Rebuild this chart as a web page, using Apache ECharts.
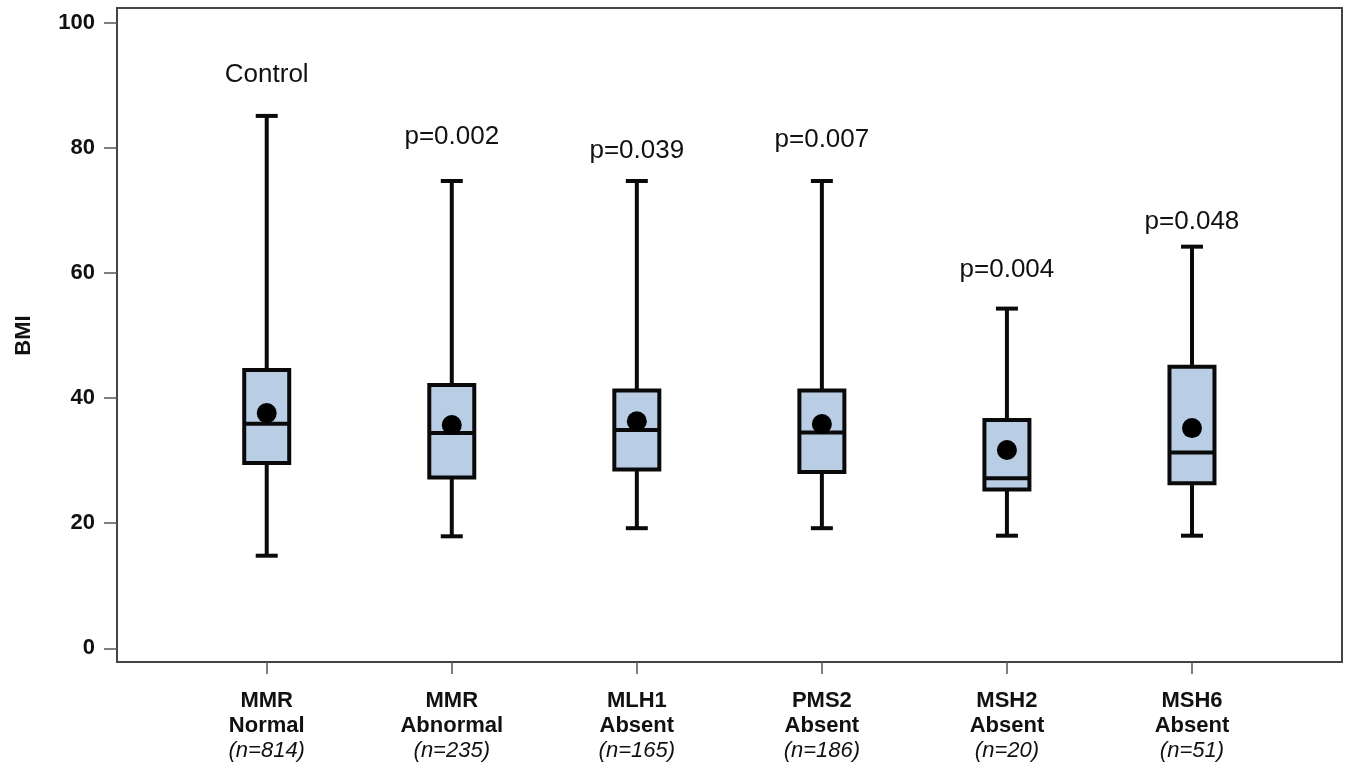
<!DOCTYPE html>
<html>
<head>
<meta charset="utf-8">
<script src="https://cdn.jsdelivr.net/npm/echarts@6/dist/echarts.min.js"></script>
<style>html,body{margin:0;padding:0;background:#fff}#c{width:1350px;height:766px}</style>
</head>
<body>
<div id="c"></div>
<script>
// ---- data ----
const groupTop = ['MMR', 'MMR', 'MLH1', 'PMS2', 'MSH2', 'MSH6'];
const groupBottom = ['Normal', 'Abnormal', 'Absent', 'Absent', 'Absent', 'Absent'];
const nCounts = [814, 235, 165, 186, 20, 51];
const whiskerLow = [14.8, 17.9, 19.2, 19.2, 18.0, 18.0];
const q1 = [29.6, 27.3, 28.6, 28.2, 25.4, 26.4];
const median = [35.9, 34.4, 34.9, 34.5, 27.2, 31.3];
const q3 = [44.5, 42.1, 41.2, 41.2, 36.5, 45.0];
const whiskerHigh = [85.1, 74.7, 74.7, 74.7, 54.3, 64.2];
const means = [37.6, 35.7, 36.3, 35.85, 31.7, 35.2];
const annotText = ['Control', 'p=0.002', 'p=0.039', 'p=0.007', 'p=0.004', 'p=0.048'];
const annotY = [91.6, 81.7, 79.5, 81.25, 60.5, 68.2];
const yTicks = { min: 0, max: 100, interval: 20 };

const categories = groupTop.map((t, i) => t + ' ' + groupBottom[i]);
const boxData = categories.map((c, i) => [i, whiskerLow[i], q1[i], median[i], q3[i], whiskerHigh[i], means[i]]);
const annotData = annotText.map((t, i) => [i, annotY[i]]);

const FONT = '"Liberation Sans", Arial, sans-serif';
const INK = '#111';
const STROKE = '#0a0a0a';

function renderBox(params, api) {
  const idx = api.value(0);
  const x = api.coord([idx, 0])[0];
  const yLow = api.coord([idx, api.value(1)])[1];
  const yQ1 = api.coord([idx, api.value(2)])[1];
  const yMed = api.coord([idx, api.value(3)])[1];
  const yQ3 = api.coord([idx, api.value(4)])[1];
  const yHigh = api.coord([idx, api.value(5)])[1];
  const yMean = api.coord([idx, api.value(6)])[1];
  const halfW = 22.5, capHalf = 11, lw = 4;
  const st = { stroke: STROKE, lineWidth: lw };
  return {
    type: 'group',
    children: [
      { type: 'line', shape: { x1: x, y1: yHigh, x2: x, y2: yQ3 }, style: st },
      { type: 'line', shape: { x1: x, y1: yQ1, x2: x, y2: yLow }, style: st },
      { type: 'line', shape: { x1: x - capHalf, y1: yHigh, x2: x + capHalf, y2: yHigh }, style: st },
      { type: 'line', shape: { x1: x - capHalf, y1: yLow, x2: x + capHalf, y2: yLow }, style: st },
      { type: 'rect', shape: { x: x - halfW, y: yQ3, width: 2 * halfW, height: yQ1 - yQ3 },
        style: { fill: '#B9CDE5', stroke: STROKE, lineWidth: lw } },
      { type: 'line', shape: { x1: x - halfW, y1: yMed, x2: x + halfW, y2: yMed }, style: st },
      { type: 'circle', shape: { cx: x, cy: yMean, r: 10 }, style: { fill: '#000' } }
    ]
  };
}

function renderAnnot(params, api) {
  const p = api.coord([api.value(0), api.value(1)]);
  return {
    type: 'text',
    x: p[0], y: p[1],
    style: {
      text: annotText[params.dataIndex],
      fill: INK,
      font: '26px ' + FONT,
      align: 'center',
      verticalAlign: 'middle'
    }
  };
}

const chart = echarts.init(document.getElementById('c'), null, { renderer: 'canvas' });
chart.setOption({
  animation: false,
  backgroundColor: '#fff',
  grid: [
    { left: 117, right: 8, top: 8, bottom: 104, show: true, borderColor: '#444', borderWidth: 2, backgroundColor: 'transparent' },
    { left: 174.2, right: 65.5, top: 22.7, bottom: 117.7 }
  ],
  xAxis: [
    { gridIndex: 0, type: 'value', show: false, min: 0, max: 1 },
    {
      gridIndex: 1, type: 'category', data: categories, offset: 13.7,
      axisLine: { show: false, onZero: false },
      axisTick: { show: true, alignWithLabel: true, length: 12, lineStyle: { color: '#555', width: 1.5 } },
      axisLabel: {
        interval: 0, margin: 26,
        formatter: (v, i) => '{b|' + groupTop[i] + '}\n{b|' + groupBottom[i] + '}\n{i|(n=' + nCounts[i] + ')}',
        rich: {
          b: { fontFamily: FONT, fontWeight: 'bold', fontSize: 22, color: INK, lineHeight: 25 },
          i: { fontFamily: FONT, fontStyle: 'italic', fontSize: 22, color: INK, lineHeight: 25 }
        }
      }
    }
  ],
  yAxis: [
    { gridIndex: 0, type: 'value', show: false, min: 0, max: 1 },
    {
      gridIndex: 1, type: 'value', min: yTicks.min, max: yTicks.max, interval: yTicks.interval, offset: 57.2,
      name: 'BMI', nameLocation: 'middle', nameGap: 82,
      nameTextStyle: { fontFamily: FONT, fontWeight: 'bold', fontSize: 22, color: INK },
      axisLine: { show: false, onZero: false },
      axisTick: { show: true, length: 13, lineStyle: { color: '#555', width: 1.5 } },
      splitLine: { show: false },
      axisLabel: { margin: 22, fontFamily: FONT, fontWeight: 'bold', fontSize: 22, color: INK }
    }
  ],
  series: [
    {
      type: 'custom', xAxisIndex: 1, yAxisIndex: 1,
      renderItem: renderBox, data: boxData,
      encode: { x: 0, y: [1, 2, 3, 4, 5, 6] }, clip: false
    },
    {
      type: 'custom', xAxisIndex: 1, yAxisIndex: 1,
      renderItem: renderAnnot, data: annotData,
      encode: { x: 0, y: 1 }, clip: false
    }
  ]
});
</script>
</body>
</html>
